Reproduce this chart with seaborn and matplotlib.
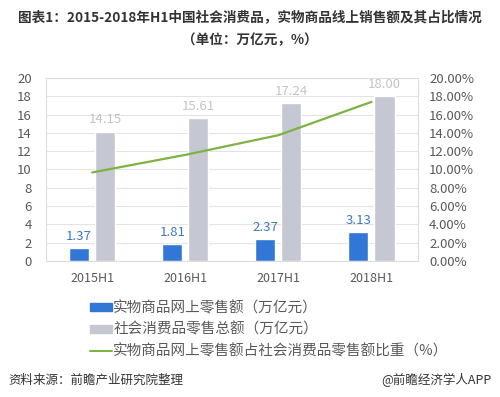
import pandas as pd
import numpy as np
import seaborn as sns
import matplotlib.pyplot as plt
from matplotlib.ticker import PercentFormatter
from matplotlib.patches import Patch
from matplotlib.lines import Line2D

# data
periods = ['2015H1', '2016H1', '2017H1', '2018H1']
online_sales = [1.37, 1.81, 2.37, 3.13]
total_retail = [14.15, 15.61, 17.24, 18.00]
online_share = [9.68, 11.60, 13.75, 17.39]

online_name = '实物商品网上零售额（万亿元）'
total_name = '社会消费品零售总额（万亿元）'
share_name = '实物商品网上零售额占社会消费品零售额比重（%）'

blue = '#3277d6'
grey = '#c5c8d2'
green = '#7cb342'
tick_col = '#595959'

sns.set_theme(style='white')
plt.rcParams['font.family'] = ['Noto Sans CJK SC', 'DejaVu Sans']

df = pd.DataFrame({
    'period': periods * 2,
    'value': online_sales + total_retail,
    'series': [online_name] * 4 + [total_name] * 4,
})

fig = plt.figure(figsize=(5, 3.97), dpi=100)
ax = fig.add_axes([0.0914, 0.3426, 0.7446, 0.4609])

sns.barplot(data=df, x='period', y='value', hue='series', ax=ax,
            palette=[blue, grey], width=0.56, gap=0.23, legend=False,
            saturation=1)

# data labels
for cont, col in zip(ax.containers, ['#3d78c2', '#c4c4c4']):
    ax.bar_label(cont, fmt='%.2f', padding=4, color=col, fontsize=9.5)

ax.set_ylim(0, 20)
ax.set_yticks(range(0, 21, 2))
ax.set_xlim(-0.5, 3.5)
ax.set_xlabel('')
ax.set_ylabel('')
ax.yaxis.grid(True, color='#e3e3e3', linewidth=0.8)
ax.set_axisbelow(True)
ax.tick_params(axis='y', labelsize=9.5, colors=tick_col, length=0, pad=10)
ax.tick_params(axis='x', labelsize=9, colors=tick_col, length=0, pad=8)
for s in ax.spines.values():
    s.set_color('#dcdcdc')
    s.set_linewidth(0.8)

ax2 = ax.twinx()
ax2.plot(range(len(periods)), np.array(online_share) / 100, color=green, linewidth=1.6)
ax2.set_ylim(0, 0.2)
ax2.set_yticks(np.arange(0, 0.201, 0.02))
ax2.yaxis.set_major_formatter(PercentFormatter(1.0, decimals=2))
ax2.tick_params(axis='y', labelsize=9.5, colors=tick_col, length=0, pad=8)
for s in ax2.spines.values():
    s.set_visible(False)

# title
fig.text(0.5, 0.955, '图表1：2015-2018年H1中国社会消费品，实物商品线上销售额及其占比情况',
         ha='center', va='center', fontsize=9.8, fontweight='bold', color='#333333')
fig.text(0.5, 0.898, '（单位：万亿元，%）',
         ha='center', va='center', fontsize=9.8, fontweight='bold', color='#333333')

# legend
handles = [Patch(color=blue), Patch(color=grey), Line2D([], [], color=green, linewidth=1.4)]
fig.legend(handles, [online_name, total_name, share_name],
           loc='upper left', bbox_to_anchor=(0.18, 0.242), frameon=False,
           fontsize=10.5, labelcolor='#595959', handlelength=1.5, handleheight=0.45,
           handletextpad=0.1, labelspacing=0.52, borderpad=0, borderaxespad=0)

fig.text(0.016, 0.043, '资料来源：前瞻产业研究院整理', fontsize=9, style='italic',
         color='#333333', va='center')
fig.text(0.982, 0.043, '@前瞻经济学人APP', fontsize=9, color='#333333',
         va='center', ha='right')

plt.savefig('out.png', dpi=100)
plt.close()
